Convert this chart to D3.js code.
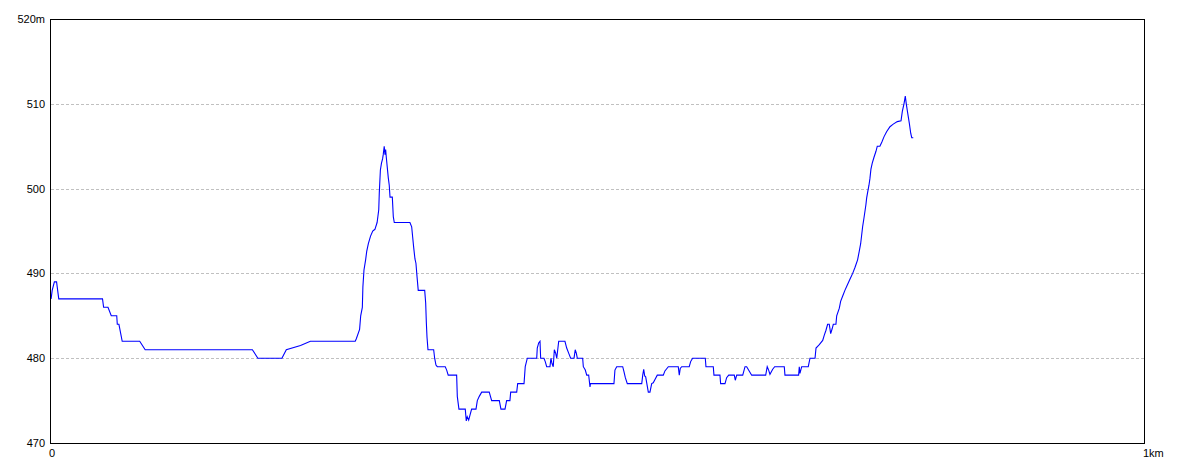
<!DOCTYPE html>
<html>
<head>
<meta charset="utf-8">
<script src="https://cdn.jsdelivr.net/npm/d3@7/dist/d3.min.js"></script>
<style>
  html, body { margin: 0; padding: 0; background: #fff; }
  svg { display: block; }
  text { font-family: "Liberation Sans", "DejaVu Sans", sans-serif; font-size: 11px; fill: #000; }
</style>
</head>
<body>
<svg id="chart" width="1184" height="473"></svg>
<script>
// Distance along track (metres)
const distance = [
  1, 2, 4, 6, 8, 48, 49, 53, 56, 61, 61.5, 63, 66, 82, 87, 185, 190, 212, 216, 229, 238,
  279, 280, 283, 284, 285.5, 286, 287, 288.5, 289.5, 291, 293, 295, 297, 299, 300.5, 301,
  302, 303, 304, 304.6, 305.5, 306.2, 306.8, 307.4, 308.3, 309.2, 310.1, 310.8, 312.9,
  313.8, 314.7, 329, 330.6, 331.5, 332.4, 333.6, 334.5, 335.5, 336.6, 342.5, 343.4, 344,
  344.6, 345.5, 350.7, 351.6, 352.8, 354, 361.3, 362.6, 364, 371.7, 372.3, 373.8, 379.6,
  380.5, 381.4, 382.7, 383.9, 385.4, 389.4, 390.6, 392.4, 394.6, 401.5, 403.7, 410.7,
  412.2, 415.9, 417.4, 420.4, 421.1, 426.6, 427.5, 433.3, 434.4, 436.3, 444.9, 445.4,
  446.7, 447.9, 448.5, 451.5, 452.7, 454, 457, 457.9, 458.8, 460, 461, 462.2, 463.2, 465,
  470.7, 472.3, 474.1, 475.9, 479, 480.1, 481.1, 482, 486.9, 487.5, 489.3, 490.6, 492.4,
  493.6, 494, 515.5, 516.4, 518, 523.5, 524.7, 525.9, 527.7, 540.9, 541.8, 542.7, 543.6,
  544.5, 546.9, 548.4, 550, 551.4, 553, 555.1, 560.6, 562.1, 565.2, 574.3, 575.2, 576.1,
  577.4, 584.3, 585.6, 587.4, 599, 599.6, 606.3, 606.9, 612.4, 613, 617, 618.5, 620.4,
  625.5, 626.4, 627.7, 633.2, 635.3, 636.8, 641.4, 654.2, 655.6, 656.9, 658.1, 660.6,
  662.4, 671.2, 671.8, 684.3, 684.9, 685.5, 687.1, 693.1, 694.7, 699.3, 700.2, 703.2,
  706.3, 707.7, 709.3, 710.8, 712.3, 713.6, 715, 716, 718.4, 719.1, 721.5, 722.7, 724.5,
  726.6, 728.7, 731.2, 733.7, 735.8, 738.2, 739.7, 741, 741.9, 742.8, 744, 744.9, 745.8,
  746.5, 747.7, 748.6, 749.5, 750.4, 751.6, 753.2, 755, 756.2, 758.6, 760.4, 762.3,
  764.7, 767.8, 770.8, 774.5, 777.9, 779.1, 780.6, 781.8, 782.7, 784, 785.5, 786.8,
  787.7, 789.1
];
// Elevation (metres)
const elevation = [
  487, 488, 489, 489, 487, 487, 486, 486, 485, 485, 484, 484, 482, 482, 481, 481, 480, 480, 481, 481.5, 482,
  482, 482.3, 483.4, 485, 486, 488.4, 490.4, 491.6, 492.6, 493.5, 494.4, 495, 495.2, 496, 497.5, 499.5,
  502.2, 503, 503.5, 504, 505, 504, 504.6, 503.7, 502.5, 501.3, 500.4, 499, 499,
  496.7, 496, 496, 495.5, 494.3, 493.1, 491.7, 491.2, 489.6, 488, 488, 486.5, 484.2,
  482.5, 481, 481, 480, 479.2, 479, 479, 478.6, 478, 478, 475.5, 474, 474,
  472.6, 473.1, 472.7, 473.3, 474, 474, 475, 475.5, 476, 476, 475, 475,
  474, 474, 475, 475, 476, 476, 477, 477, 479, 480, 480, 481.2,
  481.8, 482, 480, 480, 479.6, 479, 479, 480, 479.4, 479, 481, 480.6, 480, 482,
  482, 481.2, 480.6, 480, 480, 481, 480.6, 480, 480, 479, 478.6, 478, 478,
  476.6, 477, 477, 478.6, 479, 479, 478.4, 477.7, 477, 477, 478, 478.7, 477.9,
  477.8, 476, 476, 477, 477.1, 477.5, 478, 478, 478.5, 479, 479, 478, 478.8,
  479, 479, 479.6, 480, 480, 479, 479, 478, 478, 477, 477, 477.7, 478,
  478, 477.4, 478, 478, 479, 479, 478, 478, 479, 478.6, 478.1, 478.7,
  479, 479, 478, 478, 479, 478.2, 479, 479, 480, 480, 481.2, 481.6,
  482.1, 482.7, 483.3, 484, 484, 482.9, 483.5, 484, 484, 485, 485.9, 486.7, 487.3,
  488, 488.6, 489.3, 490, 490.7, 491.6, 492.6, 493.5, 494.5, 495.5, 496.5, 497.3, 498.1,
  498.9, 499.8, 500.4, 501.2, 502.3, 503, 503.7, 504.4, 505, 505, 505.5, 506.1,
  506.7, 507.3, 507.6, 507.9, 508, 509.1, 510, 510.9, 510, 508.9, 507.7, 506.5,
  506, 506
];
const yTicks = [470, 480, 490, 500, 510, 520];
const yTickLabels = ["470", "480", "490", "500", "510", "520m"];
const gridValues = [480, 490, 500, 510];
const xTicks = [0, 1000];
const xTickLabels = ["0", "1km"];

const svg = d3.select("#chart");
const x = d3.scaleLinear().domain([0, 1000]).range([50, 1144]);
const y = d3.scaleLinear().domain([470, 520]).range([443, 19]);

// gridlines
svg.append("g").selectAll("line").data(gridValues).join("line")
  .attr("x1", x(0) + 1).attr("x2", x(1000))
  .attr("y1", d => Math.round(y(d)) + 0.5).attr("y2", d => Math.round(y(d)) + 0.5)
  .attr("stroke", "#c0c0c0").attr("stroke-width", 1)
  .attr("stroke-dasharray", "3,2");

// line
const pts = distance.map((d, i) => [d, elevation[i]]);
svg.append("path").datum(pts)
  .attr("fill", "none").attr("stroke", "#0000ff").attr("stroke-width", 1.1)
  .attr("d", d3.line().x(d => x(d[0])).y(d => y(d[1])));

// frame
svg.append("rect")
  .attr("x", x(0) + 0.5).attr("y", y(520) + 0.5)
  .attr("width", x(1000) - x(0)).attr("height", y(470) - y(520))
  .attr("fill", "none").attr("stroke", "#000").attr("stroke-width", 1)
  .attr("shape-rendering", "crispEdges");

// y axis labels
const yAxis = svg.append("g").attr("transform", `translate(${x(0)},0)`)
  .call(d3.axisLeft(y).tickValues(yTicks).tickFormat((d, i) => yTickLabels[i]).tickSize(0).tickPadding(5));
yAxis.select(".domain").remove();
yAxis.selectAll("text").attr("font-family", null).attr("font-size", null);

// x axis labels
const xAxis = svg.append("g").attr("transform", `translate(0,${y(470)})`)
  .call(d3.axisBottom(x).tickValues(xTicks).tickFormat((d, i) => xTickLabels[i]).tickSize(0).tickPadding(6));
xAxis.select(".domain").remove();
xAxis.selectAll("text").attr("font-family", null).attr("font-size", null)
  .attr("text-anchor", "start").attr("dx", -1.5);
</script>
</body>
</html>
